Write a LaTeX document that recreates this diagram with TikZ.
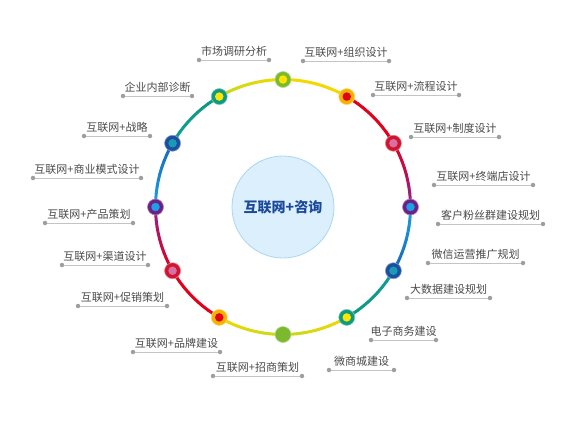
\documentclass[tikz,border=0pt]{standalone}
\usepackage{fontspec}
\newfontfamily\cjk{Noto Sans CJK SC}
\usetikzlibrary{calc}
\definecolor{ygreen}{HTML}{7DB92F}
\definecolor{yel}{HTML}{FFE500}
\definecolor{segy}{HTML}{F2D900}
\definecolor{orng}{HTML}{F7B200}
\definecolor{red}{HTML}{E2001A}
\definecolor{dred}{HTML}{CF1530}
\definecolor{pink}{HTML}{D870A5}
\definecolor{purp}{HTML}{6B2088}
\definecolor{purpseg}{HTML}{92218C}
\definecolor{lblue}{HTML}{1DA1E4}
\definecolor{dblue}{HTML}{1C4FA0}
\definecolor{bseg}{HTML}{1668B8}
\definecolor{teal}{HTML}{1A9BB5}
\definecolor{tealseg}{HTML}{119B9A}
\definecolor{tgreen}{HTML}{0E9A7E}
\definecolor{ylgr}{HTML}{C5D820}
\definecolor{cfill}{HTML}{DCEFFC}
\definecolor{cborder}{HTML}{A9D5F3}
\definecolor{ctext}{HTML}{1B4A9A}
\definecolor{txtgray}{HTML}{4A4A4A}
\definecolor{linegray}{HTML}{C4C4C4}
\definecolor{dotgray}{HTML}{9E9E9E}
\begin{document}
\begin{tikzpicture}[x=1pt,y=-1pt,
  lbl/.style={font=\cjk\fontsize{11}{13}\selectfont, text=txtgray, inner sep=0pt, anchor=base},
  gdot/.style={circle, fill=dotgray, inner sep=0pt, minimum size=4.5pt},
  gline/.style={draw=linegray, line width=1pt},
  ringout/.style={circle, inner sep=0pt, minimum size=16pt},
  ringin/.style={circle, inner sep=0pt, minimum size=8.5pt},
  seg/.style={line width=3pt, line cap=round}]
\useasboundingbox (0,0) rectangle (576,432);
\coordinate (c) at (283,207);
% ring segments with gradient
\foreach \s/\ca/\cb in {0/segy/segy, 30/red/red, 60/red/purpseg, 90/lblue/bseg, 120/tealseg/tgreen, 150/segy/ylgr,
                        180/ylgr/segy, 210/red/red, 240/red/purpseg, 270/lblue/bseg, 300/tealseg/tgreen, 330/ylgr/segy}{
  \foreach \i in {0,...,9}{
    \pgfmathtruncatemacro\p{95-10*\i}
    \pgfmathsetmacro\u{\s-90+3*\i}
    \pgfmathsetmacro\v{\s-90+3*\i+3}
    \draw[seg, draw=\ca!\p!\cb] ($(c)+(\u:127.5)$) -- ($(c)+(\v:127.5)$);
  }
}
% ring nodes
\foreach \t/\o/\q/\n in {0/ygreen/yel/r0, 30/orng/red/r1, 60/dred/pink/r2, 90/purp/lblue/r3, 120/dblue/teal/r4, 150/tgreen/yel/r5,
                         180/ygreen/ygreen/r6, 210/orng/red/r7, 240/dred/pink/r8, 270/purp/lblue/r9, 300/dblue/teal/r10, 330/tgreen/yel/r11}{
  \node[ringout, fill=\o, draw=\o!55!white, line width=0.6pt] (\n) at ($(c)+(\t-90:127.5)$) {};
  \node[ringin, fill=\q] (\n i) at (\n) {};
}
% centre
\node[circle, fill=cfill, draw=cborder, line width=0.8pt, minimum size=102pt, inner sep=0pt] (hub) at (c) {};
\node[font=\cjk\bfseries\fontsize{14}{16}\selectfont, text=ctext, inner sep=0pt] (hubtext) at (c) {互联网+咨询};
% labels
\foreach \txt/\xa/\xb/\ly/\n in {
  市场调研分析/199/269/60/l1,
  互联网+组织设计/303/389/61/l2,
  互联网+流程设计/373/459/95/l3,
  互联网+制度设计/411/499/137/l4,
  互联网+终端店设计/434/533/185/l5,
  客户粉丝群建设规划/438/543/224/l6,
  微信运营推广规划/428/523/263/l7,
  大数据建设规划/407/490/298/l8,
  电子商务建设/371/436/340/l9,
  微商城建设/329/394/370/l10,
  互联网+招商策划/213/302/376/l11,
  互联网+品牌建设/133/220/352/l12,
  互联网+促销策划/78/167/306/l13,
  互联网+渠道设计/62/148/265/l14,
  互联网+产品策划/45/133/223/l15,
  互联网+商业模式设计/33/141/178/l16,
  互联网+战略/84/150/136/l17,
  企业内部诊断/123/192/96/l18}{
  \node[gdot] (\n a) at (\xa,\ly) {};
  \node[gdot] (\n b) at (\xb,\ly) {};
  \draw[gline] (\n a) -- (\n b);
  \node[lbl] (\n t) at ({(\xa+\xb)/2},\ly-5) {\txt};
}
\end{tikzpicture}
\end{document}
